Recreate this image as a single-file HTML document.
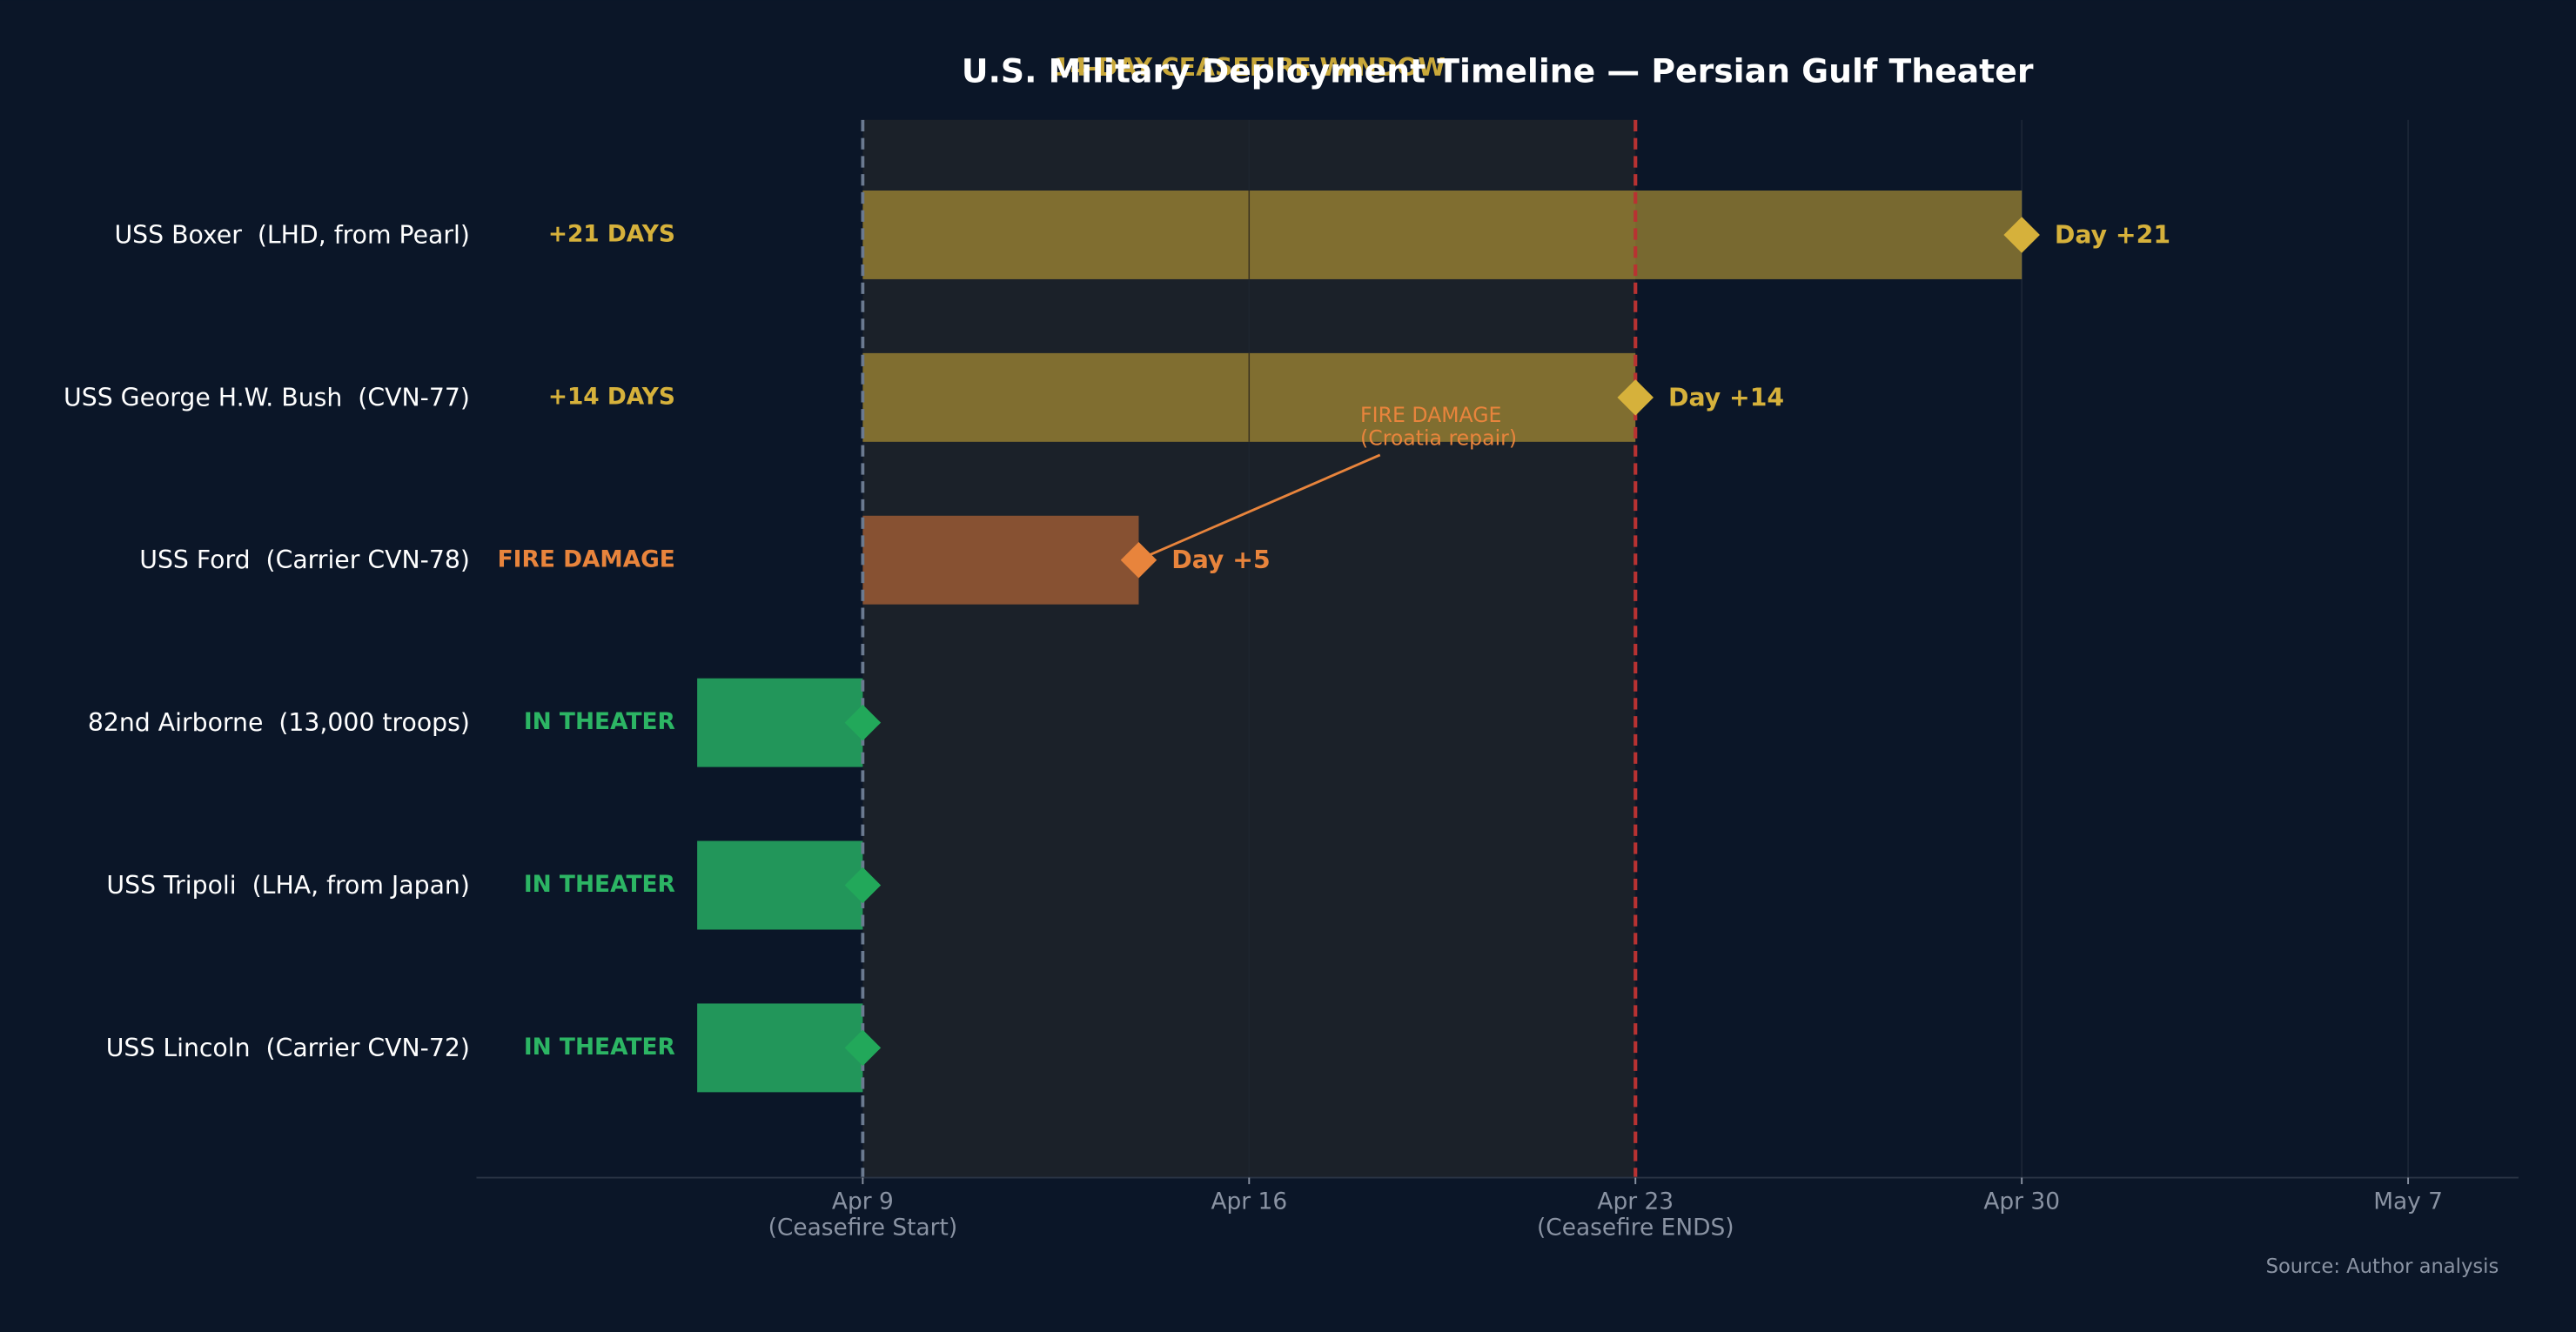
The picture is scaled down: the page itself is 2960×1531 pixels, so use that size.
<!DOCTYPE html>
<html><head><meta charset="utf-8"><style>
html,body{margin:0;padding:0;background:#0b1628;}
svg{display:block;font-family:"DejaVu Sans","Liberation Sans",sans-serif;}
text{white-space:pre;}
</style></head><body>
<svg id="chart" width="2960" height="1531" viewBox="0 0 1568 811" xmlns="http://www.w3.org/2000/svg">
<rect width="1568" height="811" fill="#0b1628"/>
<g id="plot"></g>
</svg>
<script>
const units = ["USS Boxer  (LHD, from Pearl)","USS George H.W. Bush  (CVN-77)","USS Ford  (Carrier CVN-78)","82nd Airborne  (13,000 troops)","USS Tripoli  (LHA, from Japan)","USS Lincoln  (Carrier CVN-72)"];
const startDays = [0,0,0,-3,-3,-3];
const endDays = [21,14,5,0,0,0];
const statusLabels = ["+21 DAYS","+14 DAYS","FIRE DAMAGE","IN THEATER","IN THEATER","IN THEATER"];
const dayLabels = ["Day +21","Day +14","Day +5","","",""];
const kinds = ["gold","gold","fire","green","green","green"];
const tickDays = [0,7,14,21,28];
const tickLabels = ["Apr 9","Apr 16","Apr 23","Apr 30","May 7"];
const tickSub = ["(Ceasefire Start)","","(Ceasefire ENDS)","",""];

const NS="http://www.w3.org/2000/svg";
const g=document.getElementById('plot');
const L=290,R=1533,T=73,B=717,D0=-7,D1=30;
const x=d=>L+(d-D0)*(R-L)/(D1-D0);
const y=i=>143+i*99;
function mk(tag,attrs,text){const e=document.createElementNS(NS,tag);for(const k in attrs)e.setAttribute(k,attrs[k]);if(text!==undefined)e.textContent=text;g.appendChild(e);return e;}
const col={gold:{bar:"#d4af37",op:0.55,txt:"#d6b13b",dia:"#d6b13b"},fire:{bar:"#e07a3a",op:0.55,txt:"#e8843c",dia:"#e8843c"},green:{bar:"#22965a",op:1,txt:"#2cb564",dia:"#22a85a"}};

let e;
e=mk('rect',{x:x(0),y:T,width:x(14)-x(0),height:B-T,fill:"#1b2129"});


tickDays.forEach((d,i)=>{if(d===0||d===14)return;
 e=mk('line',{x1:x(d),x2:x(d),y1:T,y2:B,stroke:"#2a3444","stroke-width":0.8,opacity:d===7?0.25:0.6});
 
 });

units.forEach((u,i)=>{
 const c=col[kinds[i]];
 e=mk('rect',{x:x(startDays[i]),y:y(i)-27,width:x(endDays[i])-x(startDays[i]),height:54,fill:c.bar,"fill-opacity":c.op});
 
 
 e=mk('text',{x:286,y:y(i)+5,"text-anchor":"end","font-size":15,fill:"#ffffff"},u);
 
 
 e=mk('text',{x:411,y:y(i)+4,"text-anchor":"end","font-size":14,"font-weight":"bold",fill:c.txt},statusLabels[i]);
 
 
});
units.forEach((u,i)=>{
 if(startDays[i]<7&&endDays[i]>7){
  e=mk('line',{x1:x(7),x2:x(7),y1:y(i)-27,y2:y(i)+27,stroke:"#3a3220","stroke-width":0.8});
  
  
 }
});

e=mk('line',{x1:x(0),x2:x(0),y1:T,y2:B,stroke:"#6b7a90","stroke-width":2,"stroke-dasharray":"7,4"});


e=mk('line',{x1:x(14),x2:x(14),y1:T,y2:B,stroke:"#b83232","stroke-width":2.2,"stroke-dasharray":"7,4"});



units.forEach((u,i)=>{
 const c=col[kinds[i]],cx=x(endDays[i]),cy=y(i);
 e=mk('polygon',{points:`${cx},${cy-11} ${cx+11},${cy} ${cx},${cy+11} ${cx-11},${cy}`,fill:c.dia});
 
 
 if(dayLabels[i]){
  e=mk('text',{x:cx+20,y:cy+5,"font-size":15,"font-weight":"bold",fill:c.txt},dayLabels[i]);
  
  
 }
});

e=mk('line',{x1:840,y1:277,x2:x(5)+4,y2:y(2)-2,stroke:"#e8843c","stroke-width":1.5});


e=mk('text',{x:828,y:257,"font-size":12.5,fill:"#e8843c"},"FIRE DAMAGE");


e=mk('text',{x:828,y:271,"font-size":12.5,fill:"#e8843c"},"(Croatia repair)");



e=mk('line',{x1:L,x2:R,y1:B,y2:B,stroke:"#2a3444","stroke-width":1});


tickDays.forEach((d,i)=>{
 e=mk('line',{x1:x(d),x2:x(d),y1:B,y2:B+4,stroke:"#8a93a3","stroke-width":1});
 
 
 e=mk('text',{x:x(d),y:B+19,"text-anchor":"middle","font-size":14,fill:"#8a93a3"},tickLabels[i]);
 
 
 if(tickSub[i]){e=mk('text',{x:x(d),y:B+35,"text-anchor":"middle","font-size":14,fill:"#8a93a3"},tickSub[i]);
 
 }
});

e=mk('text',{x:x(7),y:46,"text-anchor":"middle","font-size":15,"font-weight":"bold",fill:"#c9a83a"},"14-DAY CEASEFIRE WINDOW");


e=mk('text',{x:(L+R)/2,y:50,"text-anchor":"middle","font-size":20,"font-weight":"bold",fill:"#ffffff"},"U.S. Military Deployment Timeline — Persian Gulf Theater");


e=mk('text',{x:1521,y:775,"text-anchor":"end","font-size":12,fill:"#8a93a3"},"Source: Author analysis");


</script>
</body></html>
